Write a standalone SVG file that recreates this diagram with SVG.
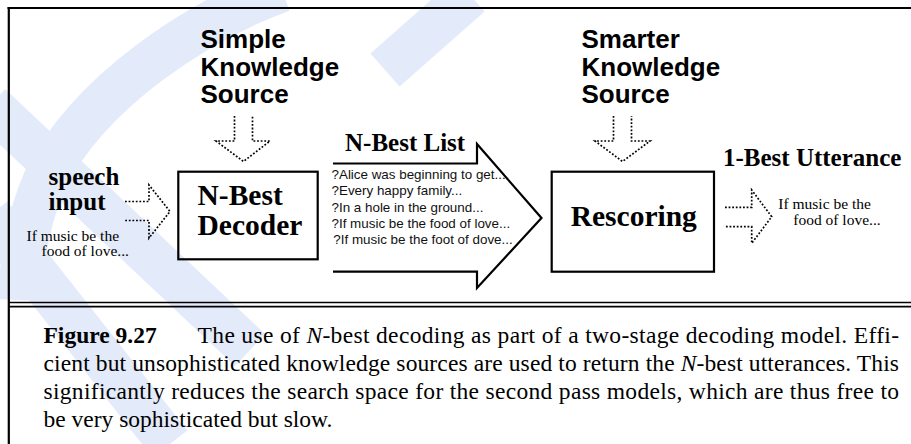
<svg xmlns="http://www.w3.org/2000/svg" width="911" height="444" viewBox="0 0 911 444">
  <style>
    .frame { fill: none; stroke: #000; }
    .box { fill: none; stroke: #000; stroke-width: 2.2; }
    .solid-arrow { fill: none; stroke: #000; stroke-width: 2.2; stroke-linejoin: miter; }
    .dot-arrow { fill: none; stroke: #000; stroke-width: 1.7; stroke-dasharray: 1.8 1.8; }
    .sans-b { font-family: "Liberation Sans", Arial, sans-serif; font-weight: bold; font-size: 26px; fill: #000; }
    .serif-b { font-family: "Liberation Serif", "Times New Roman", serif; font-weight: bold; fill: #000; }
    .serif { font-family: "Liberation Serif", "Times New Roman", serif; fill: #000; }
    .list { font-family: "Liberation Sans", Arial, sans-serif; font-size: 13.4px; fill: #111; }
    .caption { font-family: "Liberation Serif", "Times New Roman", serif; font-size: 23.5px; fill: #000; }
    .wm { fill: none; stroke: #e3eafa; stroke-width: 44; stroke-linecap: butt; }
  </style>

  <rect width="911" height="444" fill="#fff"/>

  <!-- pale background watermark strokes -->
  <g id="watermark">
    <path class="wm" d="M282,-10 C200,20 90,90 45,180 C30,215 22,250 20,300"/>
    <path class="wm" d="M-10,105 L250,350"/>
    <path class="wm" d="M-10,215 L170,444"/>
    <path class="wm" d="M470,-5 L385,70"/>
  </g>

  <!-- figure frame -->
  <g id="frame">
    <line class="frame" x1="7.5" y1="8" x2="911" y2="8" stroke-width="2.2"/>
    <line class="frame" x1="8.8" y1="7" x2="8.8" y2="444" stroke-width="2.2"/>
    <line class="frame" x1="8" y1="302.5" x2="911" y2="302.5" stroke-width="1.5"/>
    <line class="frame" x1="8" y1="306.6" x2="911" y2="306.6" stroke-width="1.7"/>
  </g>

  <!-- connectors: dotted block arrows and the N-best list arrow -->
  <g id="connectors">
    <path id="arrow-simple" class="dot-arrow" d="M234.5,116 V141 H216 L243.5,161.5 L270,141 H252.5 V116"/>
    <path id="arrow-smarter" class="dot-arrow" d="M613.5,116 V141 H595 L622.5,161.5 L650,141 H631.5 V116"/>
    <path id="arrow-speech" class="dot-arrow" d="M125,201.5 H149 V185 L170,211.5 L149,238 V220.5 H125"/>
    <path id="arrow-best" class="dot-arrow" d="M725,207.3 H751.7 V190 L771.7,216.7 L751.7,243.3 V226.7 H725"/>
    <path id="arrow-list" class="solid-arrow" d="M333,163.5 H477 V144 L541.5,218 L477,288 V271.7 H333"/>
  </g>

  <!-- knowledge sources -->
  <g id="simple-ks">
    <text class="sans-b" x="200.5" y="48">Simple</text>
    <text class="sans-b" x="200.5" y="75.5">Knowledge</text>
    <text class="sans-b" x="200.5" y="103">Source</text>
  </g>
  <g id="smarter-ks">
    <text class="sans-b" x="581.5" y="48">Smarter</text>
    <text class="sans-b" x="581.5" y="75.5">Knowledge</text>
    <text class="sans-b" x="581.5" y="103">Source</text>
  </g>

  <!-- speech input -->
  <g id="speech-input">
    <text class="serif-b" font-size="25" x="48.5" y="185">speech</text>
    <text class="serif-b" font-size="25" x="48.5" y="209.5">input</text>
    <text class="serif" font-size="15.5" x="26.5" y="240.5">If music be the</text>
    <text class="serif" font-size="15.5" x="41.5" y="256">food of love...</text>
  </g>

  <!-- first pass decoder -->
  <g id="nbest-decoder">
    <rect class="box" x="178.3" y="171.7" width="139.4" height="87.6"/>
    <text class="serif-b" font-size="29.5" x="197.5" y="205">N-Best</text>
    <text class="serif-b" font-size="29.5" x="197.5" y="234.5">Decoder</text>
  </g>

  <!-- n-best list contents -->
  <g id="nbest-list">
    <text class="serif-b" font-size="25" x="345" y="150.7">N-Best List</text>
    <text class="list" x="331.5" y="178.5">?Alice was beginning to get...</text>
    <text class="list" x="331.5" y="195">?Every happy family...</text>
    <text class="list" x="331.5" y="211.5">?In a hole in the ground...</text>
    <text class="list" x="331.5" y="228">?If music be the food of love...</text>
    <text class="list" x="333.3" y="244.3">?If music be the foot of dove...</text>
  </g>

  <!-- second pass -->
  <g id="rescoring">
    <rect class="box" x="551.7" y="171.7" width="162.3" height="100"/>
    <text class="serif-b" font-size="29.5" x="570.7" y="226">Rescoring</text>
  </g>

  <!-- output -->
  <g id="one-best">
    <text class="serif-b" font-size="25" x="723" y="165.7">1-Best Utterance</text>
    <text class="serif" font-size="15.5" x="778.3" y="209">If music be the</text>
    <text class="serif" font-size="15.5" x="793.3" y="224.5">food of love...</text>
  </g>

  <!-- caption -->
  <g id="caption">
    <text class="caption" x="43.5" y="343" font-weight="bold">Figure 9.27</text>
    <text class="caption" x="197.6" y="343" textLength="701.4" lengthAdjust="spacing">The use of <tspan font-style="italic">N</tspan>-best decoding as part of a two-stage decoding model.  Effi-</text>
    <text class="caption" x="43.5" y="371" textLength="855.5" lengthAdjust="spacing">cient but unsophisticated knowledge sources are used to return the <tspan font-style="italic">N</tspan>-best utterances. This</text>
    <text class="caption" x="43.5" y="399" textLength="855.5" lengthAdjust="spacing">significantly reduces the search space for the second pass models, which are thus free to</text>
    <text class="caption" x="43.5" y="427">be very sophisticated but slow.</text>
  </g>
</svg>
